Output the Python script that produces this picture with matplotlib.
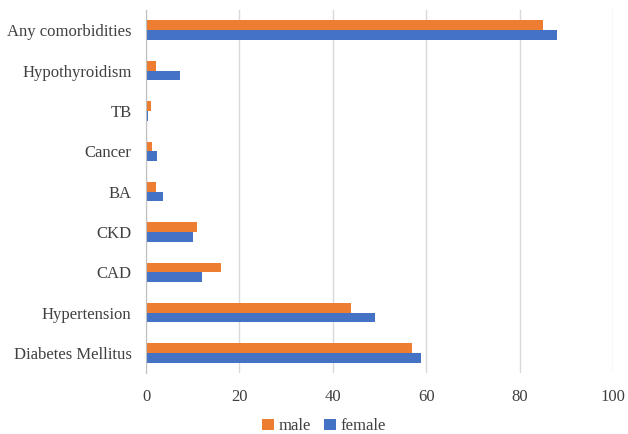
import numpy as np
import matplotlib
matplotlib.use("Agg")
import matplotlib.pyplot as plt

categories = ["Diabetes Mellitus", "Hypertension", "CAD", "CKD", "BA",
              "Cancer", "TB", "Hypothyroidism", "Any comorbidities"]
male = [57, 44, 16, 11, 2.1, 1.35, 1.1, 2.1, 85]
female = [59, 49, 12, 10, 3.6, 2.4, 0.5, 7.3, 88]

plt.rcParams["font.family"] = ["Liberation Serif", "DejaVu Serif"]
plt.rcParams["font.size"] = 12

fig = plt.figure(figsize=(6.28, 4.34), dpi=100)
ax = fig.add_axes([0.2325, 0.14, 0.7435, 0.837])

y = np.arange(len(categories))
h = 0.24
ax.barh(y + h / 2, male, height=h, color="#ED7D31", label="male", zorder=3)
ax.barh(y - h / 2, female, height=h, color="#4472C4", label="female", zorder=3)

ax.set_xlim(0, 100)
ax.set_ylim(-0.5, len(categories) - 0.5)
ax.set_xticks(range(0, 101, 20))
ax.set_yticks(y)
ax.set_yticklabels(categories)
ax.tick_params(length=0, colors="#404040", labelsize=12)
ax.tick_params(axis="x", pad=11.5)
ax.tick_params(axis="y", pad=10.5)
ax.grid(axis="x", color="#D9D9D9", linewidth=1, zorder=0)
for s in ["top", "right", "bottom"]:
    ax.spines[s].set_visible(False)
ax.spines["left"].set_color("#BFBFBF")
ax.spines["left"].set_zorder(4)

fig.legend(loc="center", bbox_to_anchor=(0.516, 0.018), ncol=2, frameon=False,
           handlelength=0.7, handleheight=0.7, handletextpad=0.3, columnspacing=0.8,
           labelcolor="#404040")

fig.savefig("out.png", dpi=100)
